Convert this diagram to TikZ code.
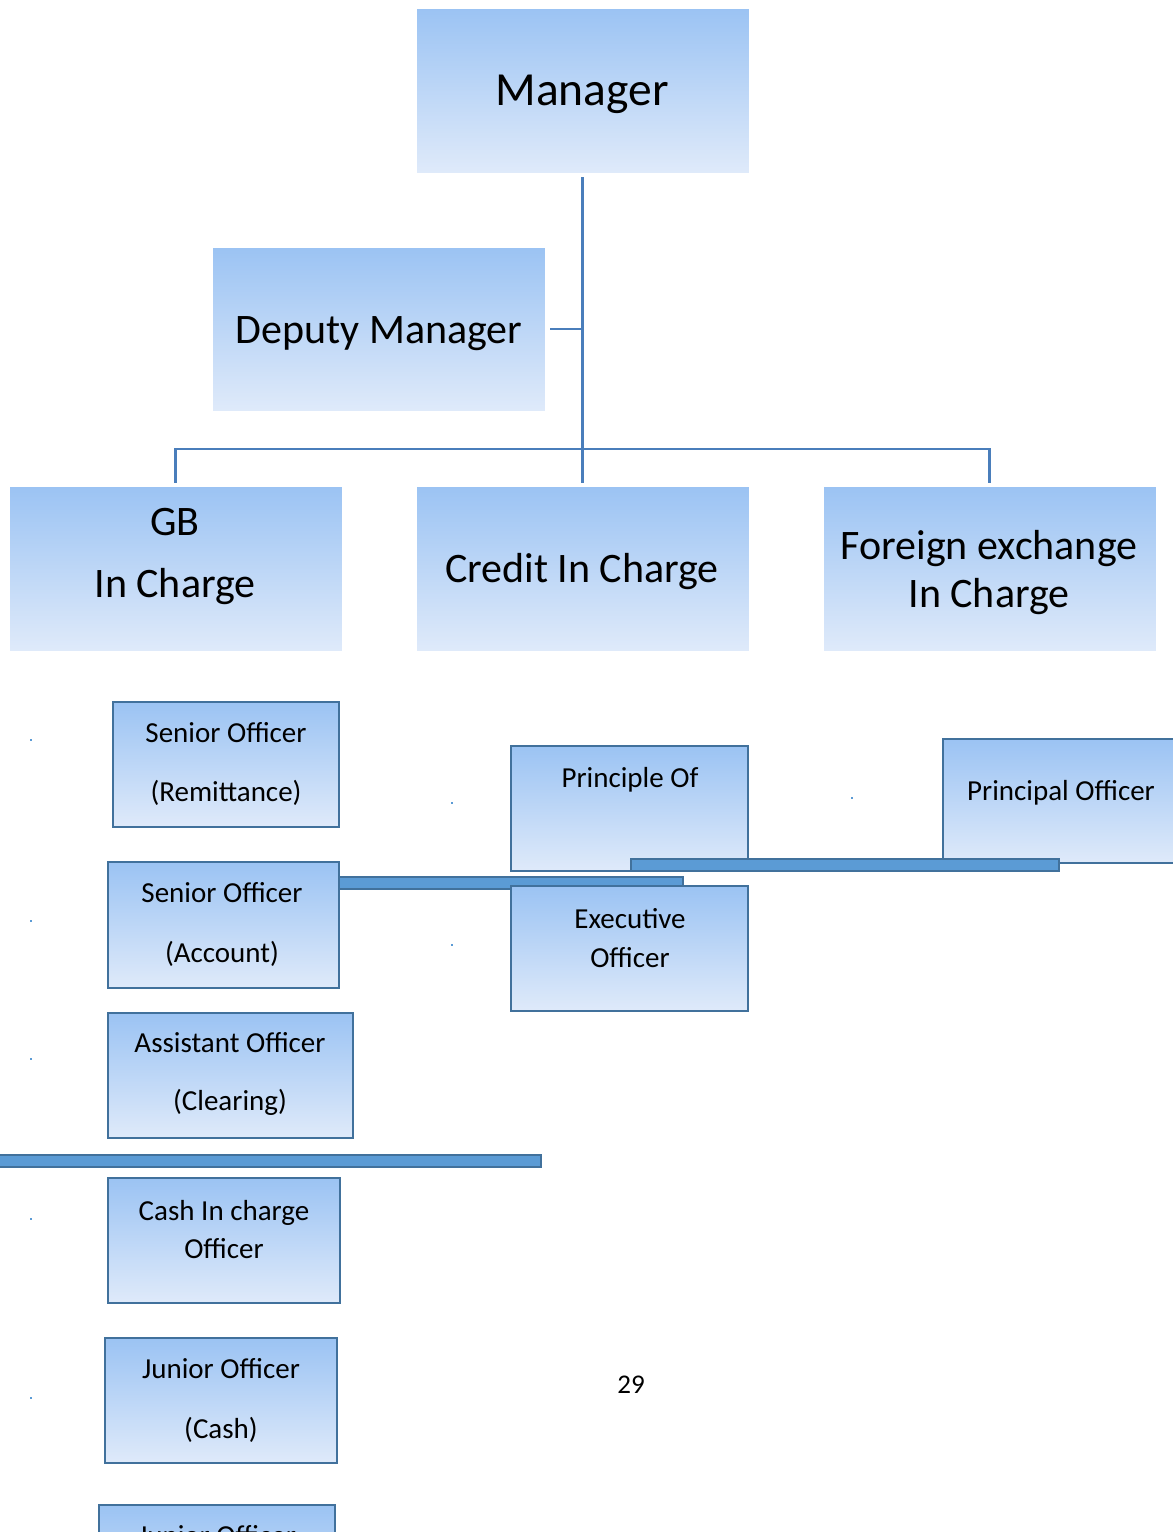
\documentclass[tikz,border=0pt]{standalone}
\usepackage{fontspec}
\setmainfont{Carlito}
\definecolor{gtop}{RGB}{155,195,243}
\definecolor{gbot}{RGB}{223,234,250}
\definecolor{edge}{RGB}{65,113,156}
\definecolor{barfill}{RGB}{91,155,213}
\definecolor{conncol}{RGB}{74,126,187}
\tikzset{
  x=1pt, y=-1pt,
  bigbox/.style={rectangle, inner sep=0pt, top color=gtop, bottom color=gbot, draw=white, line width=0.6pt},
  smallbox/.style={rectangle, inner sep=0pt, top color=gtop, bottom color=gbot, draw=edge, line width=2.5pt},
  conn/.style={draw=conncol, line width=2.6pt},
  bar/.style={fill=barfill, draw=edge, line width=2.5pt},
  lbl/.style={inner sep=0pt, align=center, anchor=base},
  huge/.style={lbl, font=\fontsize{47.5}{50}\selectfont, yshift=-15pt},
  big/.style={lbl, font=\fontsize{42}{50}\selectfont, yshift=-13.5pt},
  small/.style={lbl, font=\fontsize{29}{34}\selectfont, yshift=-9.5pt},
  pgnum/.style={lbl, font=\fontsize{27}{32}\selectfont, yshift=-9pt},
  dot/.style={fill=barfill, inner sep=0pt, minimum size=2.2pt, rectangle}
}
\newcommand{\boxat}[6]{% name, style, x1, y1, x2, y2
  \node[#2, minimum width={#5-#3}, minimum height={#6-#4}] (#1) at ({(#3+#5)/2},{(#4+#6)/2}) {};}
\begin{document}
\begin{tikzpicture}
\clip (0,0) rectangle (1173,1532);
\fill[white] (0,0) rectangle (1173,1532);

% top boxes
\boxat{mgr}{bigbox}{416}{8}{749}{173}
\node[huge] (tmgr) at (582,90) {Manager};
\boxat{dep}{bigbox}{212}{247}{545}{411}
\node[big] (tdep) at (379,330) {Deputy Manager};
\boxat{gb}{bigbox}{9}{486}{342}{651}
\node[big] (tgb1) at (175,522) {GB};
\node[big] (tgb2) at (175,584) {In Charge};
\boxat{cr}{bigbox}{416}{486}{749}{651}
\node[big] (tcr) at (582,569) {Credit In Charge};
\boxat{fx}{bigbox}{823}{486}{1156}{651}
\node[big] (tfx1) at (989,546) {Foreign exchange};
\node[big] (tfx2) at (989,594) {In Charge};

% connectors
\coordinate (hub) at (582,449);
\draw[conn] ([yshift=-4pt]mgr.south) -- ([yshift=3pt]cr.north);
\draw[conn] ([xshift=5pt]dep.east) -- (dep.east -| mgr.south);
\draw[conn] ([yshift=3pt]gb.north) |- (hub) -| ([yshift=3pt]fx.north);

% left column
\boxat{so1}{smallbox}{113}{702}{339}{827}
\node[small] (tso1a) at (226,733) {Senior Officer};
\node[small] (tso1b) at (226,792) {(Remittance)};

\draw[bar] (339,877) rectangle (683,889);

\boxat{so2}{smallbox}{108}{862}{339}{988}
\node[small] (tso2a) at (222,893) {Senior Officer};
\node[small] (tso2b) at (222,953) {(Account)};
\boxat{ao}{smallbox}{108}{1013}{353}{1138}
\node[small] (tao1) at (230,1043) {Assistant Officer};
\node[small] (tao2) at (230,1101) {(Clearing)};

\draw[bar] (-5,1155) rectangle (541,1167);

\boxat{ci}{smallbox}{108}{1178}{340}{1303}
\node[small] (tci1) at (224,1211) {Cash In charge};
\node[small] (tci2) at (224,1249) {Officer};
\boxat{jo}{smallbox}{105}{1338}{337}{1463}
\node[small] (tjo1) at (221,1369) {Junior Officer};
\node[small] (tjo2) at (221,1429) {(Cash)};
\boxat{jo2}{smallbox}{99}{1505}{335}{1630}
\node[small] (tjo3) at (217,1536) {Junior Officer};

% middle / right
\boxat{po}{smallbox}{511}{746}{748}{871}
\node[small] (tpo) at (630,778) {Principle Of};
\boxat{pr}{smallbox}{943}{739}{1185}{863}
\node[small] (tpr) at (1061,791) {Principal Officer};
\draw[bar] (631,859) rectangle (1059,871);
\boxat{eo}{smallbox}{511}{886}{748}{1011}
\node[small] (teo1) at (630,919) {Executive};
\node[small] (teo2) at (630,958) {Officer};

% page number
\node[pgnum] (pg) at (631,1384) {29};

% stray dots
\foreach \n/\xx/\yy in {d1/31/740, d2/31/921, d3/31/1059, d4/31/1219, d5/31/1398, d6/452/803, d7/452/945, d8/852/798}
  \node[dot] (\n) at (\xx,\yy) {};
\end{tikzpicture}
\end{document}
